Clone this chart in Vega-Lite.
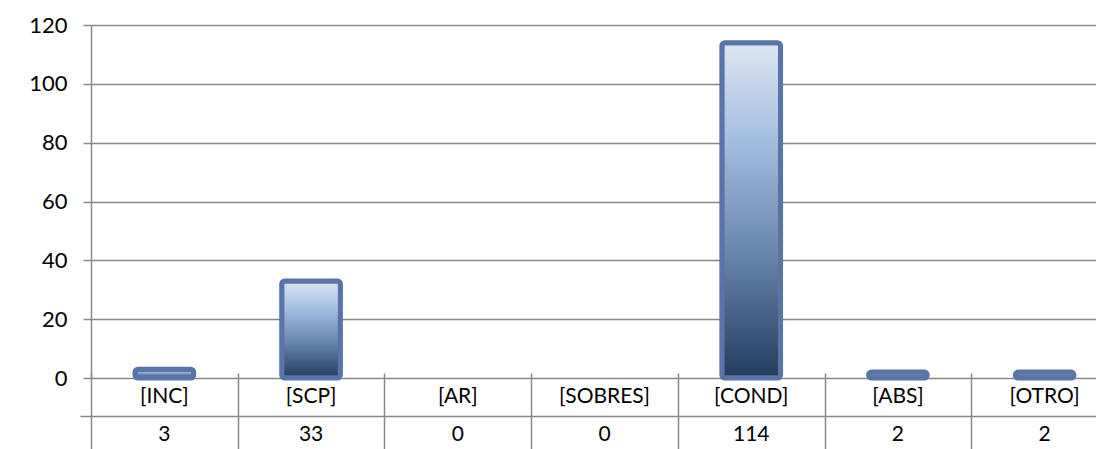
{
  "$schema": "https://vega.github.io/schema/vega-lite/v6.json",
  "background": "white",
  "padding": {"left": 28, "top": 14, "right": 0, "bottom": 0},
  "spacing": 0,
  "bounds": "flush",
  "config": {
    "view": {"stroke": null},
    "font": "Lato",
    "axis": {"labelFont": "Lato", "labelColor": "#000000"}
  },
  "data": {
    "values": [
      {"category": "[INC]", "value": 3},
      {"category": "[SCP]", "value": 33},
      {"category": "[AR]", "value": 0},
      {"category": "[SOBRES]", "value": 0},
      {"category": "[COND]", "value": 114},
      {"category": "[ABS]", "value": 2},
      {"category": "[OTRO]", "value": 2}
    ]
  },
  "vconcat": [
    {
      "width": 1005,
      "height": 353,
      "transform": [{"filter": "datum.value > 0"}],
      "mark": {
        "type": "bar",
        "width": {"band": 0.4},
        "cornerRadius": 3,
        "stroke": "#5874A8",
        "strokeWidth": 5,
        "fill": {
          "gradient": "linear",
          "x1": 0, "y1": 0, "x2": 0, "y2": 1,
          "stops": [
            {"offset": 0, "color": "#DCE6F2"},
            {"offset": 0.3, "color": "#A2BCDE"},
            {"offset": 0.62, "color": "#6C87AE"},
            {"offset": 1, "color": "#233C5E"}
          ]
        }
      },
      "encoding": {
        "x": {
          "field": "category",
          "type": "nominal",
          "sort": null,
          "scale": {
            "domain": ["[INC]", "[SCP]", "[AR]", "[SOBRES]", "[COND]", "[ABS]", "[OTRO]"],
            "range": [0, 1027],
            "paddingInner": 0,
            "paddingOuter": 0
          },
          "axis": null
        },
        "y": {
          "field": "value",
          "type": "quantitative",
          "scale": {"domain": [0, 120], "nice": false},
          "axis": {
            "title": null,
            "values": [0, 20, 40, 60, 80, 100, 120],
            "grid": true,
            "gridColor": "#888888",
            "gridWidth": 1.5,
            "domainColor": "#888888",
            "domainWidth": 1.5,
            "tickColor": "#888888",
            "tickWidth": 1.5,
            "tickSize": 8,
            "labelFontSize": 22,
            "labelPadding": 16
          }
        }
      }
    },
    {
      "width": 1005,
      "height": 71,
      "encoding": {
        "x": {
          "field": "category",
          "type": "nominal",
          "sort": null,
          "scale": {
            "domain": ["[INC]", "[SCP]", "[AR]", "[SOBRES]", "[COND]", "[ABS]", "[OTRO]"],
            "range": [0, 1027],
            "paddingInner": 0,
            "paddingOuter": 0
          },
          "axis": {
            "title": null,
            "values": ["[INC]", "[SCP]", "[AR]", "[SOBRES]", "[COND]", "[ABS]"],
            "labels": false,
            "ticks": false,
            "domain": false,
            "grid": true,
            "tickBand": "extent",
            "gridColor": "#888888",
            "gridWidth": 1.5
          }
        }
      },
      "layer": [
        {
          "mark": {"type": "text", "font": "Lato", "fontSize": 21, "color": "#000000"},
          "encoding": {
            "y": {
              "datum": "label",
              "type": "nominal",
              "scale": {"type": "band", "domain": ["label", "value"], "range": [0, 76], "paddingInner": 0, "paddingOuter": 0},
              "axis": {
                "title": null,
                "values": ["value"],
                "labels": false,
                "domain": false,
                "grid": true,
                "bandPosition": 0,
                "gridColor": "#888888",
                "gridWidth": 1.5,
                "tickColor": "#888888",
                "tickWidth": 1.5,
                "tickSize": 11
              }
            },
            "text": {"field": "category", "type": "nominal"}
          }
        },
        {
          "mark": {"type": "text", "font": "Lato", "fontSize": 21, "color": "#000000"},
          "encoding": {
            "y": {"datum": "value", "type": "nominal"},
            "text": {"field": "value", "type": "quantitative"}
          }
        }
      ]
    }
  ]
}
